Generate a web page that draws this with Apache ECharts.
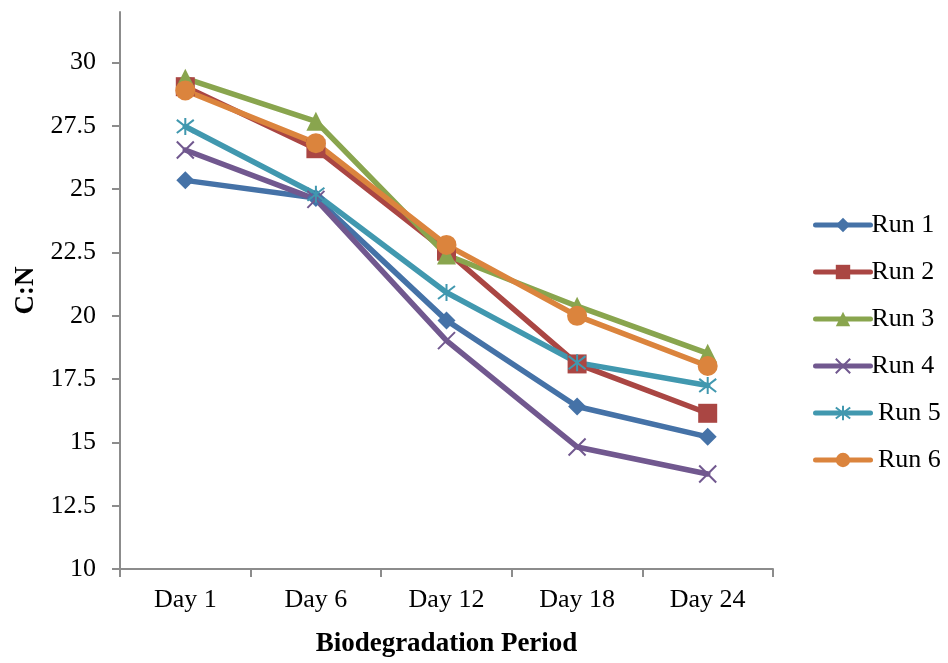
<!DOCTYPE html>
<html>
<head>
<meta charset="utf-8">
<script src="https://cdn.jsdelivr.net/npm/echarts@6/dist/echarts.min.js"></script>
<style>
  html, body { margin: 0; padding: 0; background: #fff; }
  #chart { width: 948px; height: 663px; }
</style>
</head>
<body>
<div id="chart"></div>
<script>
// Sampling days along the biodegradation period
const days = ['Day 1', 'Day 6', 'Day 12', 'Day 18', 'Day 24'];

// C:N ratio measured for each run
const run1 = [25.35, 24.65, 19.82, 16.42, 15.22];
const run2 = [29.05, 26.6, 22.55, 18.1, 16.15];
const run3 = [29.38, 27.68, 22.4, 20.38, 18.52];
const run4 = [26.55, 24.6, 19.02, 14.82, 13.75];
const run5 = [27.48, 24.8, 20.92, 18.15, 17.25];
const run6 = [28.9, 26.82, 22.8, 20.0, 18.02];

const runNames = ['Run 1', 'Run 2', 'Run 3', 'Run 4', ' Run 5', ' Run 6'];
const yTicks = [10, 12.5, 15, 17.5, 20, 22.5, 25, 27.5, 30];

const FONT = 'Liberation Serif';
const FONT_SIZE = 26;
const AXIS_GREY = '#8c8c8c';

const crossPath = 'path://M0,0L10,10M10,0L0,10';
const starPath = 'path://M0,0L10,10M10,0L0,10M5,-1.5L5,11.5';

function run(name, data, color, symbol, size, stroked) {
  return {
    name: name,
    type: 'line',
    data: data,
    symbol: symbol,
    symbolSize: size,
    showAllSymbol: true,
    lineStyle: { color: color, width: 5.5, cap: 'round', join: 'round' },
    itemStyle: stroked
      ? { color: color, borderColor: color, borderWidth: 2 }
      : { color: color, borderColor: color, borderWidth: 0 },
    emphasis: { disabled: true },
    z: 2
  };
}

const chart = echarts.init(document.getElementById('chart'), null, { renderer: 'canvas' });
chart.setOption({
  animation: false,
  backgroundColor: '#ffffff',
  textStyle: { fontFamily: FONT },
  grid: { left: 120, right: 175, top: 12, bottom: 91, containLabel: false },
  legend: {
    orient: 'vertical',
    left: 813,
    top: 212,
    padding: 0,
    itemWidth: 55,
    itemHeight: 18,
    itemGap: 21,
    data: runNames,
    lineStyle: { width: 5, cap: 'round' },
    textStyle: { fontFamily: FONT, fontSize: FONT_SIZE, color: '#000', padding: [0, 0, 0, -4] }
  },
  xAxis: {
    type: 'category',
    data: days,
    boundaryGap: true,
    name: 'Biodegradation Period',
    nameLocation: 'middle',
    nameGap: 62,
    nameTextStyle: { fontFamily: FONT, fontSize: 27, fontWeight: 'bold', color: '#000' },
    axisLine: { lineStyle: { color: AXIS_GREY, width: 2 } },
    axisTick: { show: true, alignWithLabel: false, length: 8, lineStyle: { color: AXIS_GREY, width: 2 } },
    axisLabel: { margin: 18, fontFamily: FONT, fontSize: FONT_SIZE, color: '#000' },
    splitLine: { show: false }
  },
  yAxis: {
    type: 'value',
    min: 10,
    max: 32,
    interval: 2.5,
    name: 'C:N',
    nameLocation: 'middle',
    nameRotate: 90,
    nameGap: 78,
    nameTextStyle: { fontFamily: FONT, fontSize: 27, fontWeight: 'bold', color: '#000' },
    axisLine: { show: true, lineStyle: { color: AXIS_GREY, width: 2 } },
    axisTick: { show: true, length: 8, customValues: yTicks, lineStyle: { color: AXIS_GREY, width: 2 } },
    axisLabel: { margin: 24, customValues: yTicks, fontFamily: FONT, fontSize: FONT_SIZE, color: '#000' },
    splitLine: { show: false }
  },
  series: [
    run(runNames[0], run1, '#4572a7', 'diamond', 18, false),
    run(runNames[1], run2, '#aa4643', 'rect', 19, false),
    run(runNames[2], run3, '#89a54e', 'triangle', 19, false),
    run(runNames[3], run4, '#71588f', crossPath, 17, true),
    run(runNames[4], run5, '#4198af', starPath, 17, true),
    run(runNames[5], run6, '#db843d', 'circle', 20, false)
  ]
});
</script>
</body>
</html>
